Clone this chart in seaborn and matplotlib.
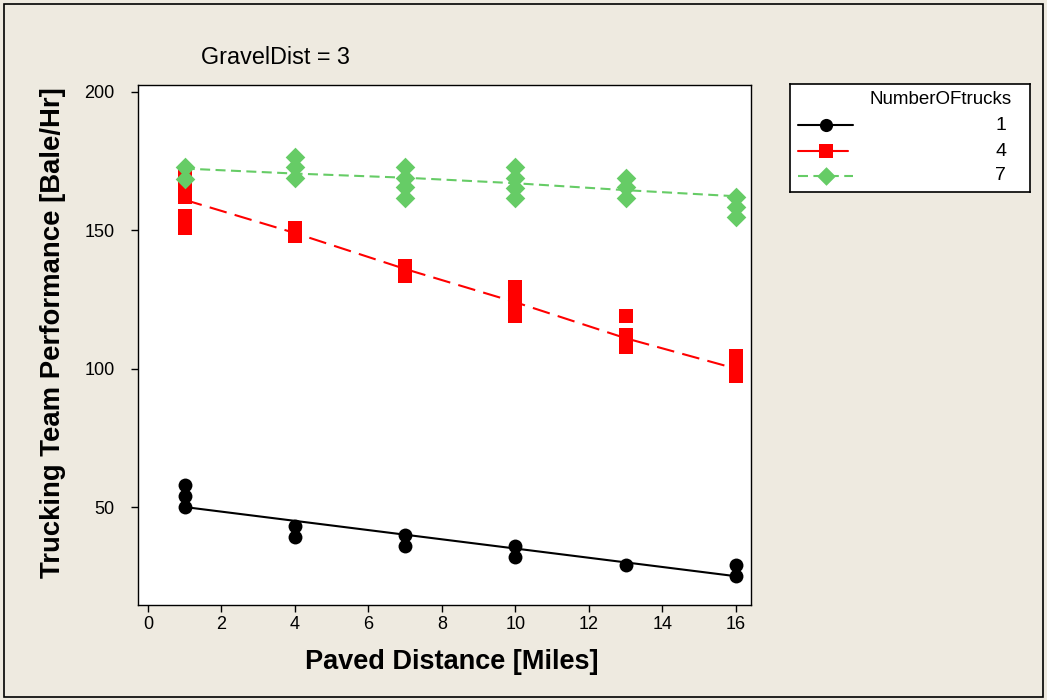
import numpy as np
import pandas as pd
import matplotlib
matplotlib.use("Agg")
import matplotlib.pyplot as plt
import seaborn as sns
from matplotlib.patches import Rectangle
from matplotlib.lines import Line2D

# ---------------- data ----------------
trucks_levels = ["1", "4", "7"]

# observed points (PavedDist, performance)
x_t1 = [1, 1, 1, 4, 4, 7, 7, 10, 10, 13, 16, 16]
y_t1 = [58, 54, 50, 43, 39, 40, 36, 36, 32, 29, 29, 25]

x_t4 = [1, 1, 1, 1, 1, 4, 4, 7, 7, 10, 10, 10, 10, 13, 13, 13, 16, 16, 16]
y_t4 = [170, 166, 162, 155, 151, 151, 148, 137, 133.5, 129.5, 125.5, 122, 119, 119, 112, 108, 104.5, 101, 97.5]

x_t7 = [1, 1, 4, 4, 4, 7, 7, 7, 7, 10, 10, 10, 10, 13, 13, 13, 16, 16, 16]
y_t7 = [173, 168.6, 176.4, 172.8, 168.8, 172.7, 169, 165.5, 161.6, 172.7, 169, 165.3, 161.6, 169, 165.5, 161.6, 162, 158.3, 154.7]

# fitted lines
fit_x = [1, 4, 7, 10, 13, 16]
fit_t1 = [50, 45, 40, 35, 30, 25]
fit_t4 = [161, 149, 136, 124, 111, 100]
fit_t7 = [172.3, 170.5, 169, 167, 164.5, 162.3]

xticks = [0, 2, 4, 6, 8, 10, 12, 14, 16]
yticks = [50, 100, 150, 200]

pts = pd.DataFrame({
    "PavedDist": x_t1 + x_t4 + x_t7,
    "Perf": y_t1 + y_t4 + y_t7,
    "Trucks": ["1"] * len(x_t1) + ["4"] * len(x_t4) + ["7"] * len(x_t7),
})
fits = pd.DataFrame({
    "PavedDist": fit_x * 3,
    "Perf": fit_t1 + fit_t4 + fit_t7,
    "Trucks": ["1"] * 6 + ["4"] * 6 + ["7"] * 6,
})

# ---------------- style ----------------
sns.set_theme(style="white")
plt.rcParams["font.family"] = ["Liberation Sans", "DejaVu Sans"]
plt.rcParams["text.color"] = "black"
plt.rcParams["axes.labelcolor"] = "black"
plt.rcParams["xtick.color"] = "black"
plt.rcParams["ytick.color"] = "black"

bg = "#EEEAE0"
colors = {"1": "#000000", "4": "#FF0000", "7": "#66CC66"}
markers = {"1": "o", "4": "s", "7": "D"}
sizes = {"1": 100, "4": 100, "7": 100}
dashes = {"1": (None, None), "4": (8.5, 4), "7": (4.8, 2.6)}

fig = plt.figure(figsize=(10.47, 7.0), dpi=100)
fig.patch.set_facecolor(bg)
fig.patches.append(Rectangle((4 / 1047, 3 / 700), 1039 / 1047, 693 / 700,
                             transform=fig.transFigure, fill=False,
                             edgecolor="black", linewidth=1.2))

L, R, T, B = 138, 751, 85, 605
ax = fig.add_axes([L / 1047, 1 - B / 700, (R - L) / 1047, (B - T) / 700])
ax.set_facecolor("white")

for lev in trucks_levels:
    sub = fits[fits.Trucks == lev]
    ls = "-" if lev == "1" else "--"
    sns.lineplot(data=sub, x="PavedDist", y="Perf", ax=ax,
                 color=colors[lev], lw=1.5, linestyle=ls, legend=False)
for lev in trucks_levels:
    if lev != "1":
        ln = ax.lines[trucks_levels.index(lev)]
        ln.set_dashes(dashes[lev])

for lev in trucks_levels:
    sub = pts[pts.Trucks == lev]
    sns.scatterplot(data=sub, x="PavedDist", y="Perf", ax=ax,
                    color=colors[lev], marker=markers[lev], s=sizes[lev],
                    linewidth=0, legend=False, zorder=3)

ax.set_xlim(-0.272, 16.41)
ax.set_ylim(14.6, 202.5)
ax.set_xticks(xticks)
ax.set_yticks(yticks)
ax.tick_params(axis="both", direction="out", length=5, width=1,
               labelsize=13, colors="black", left=True, bottom=True)
ax.tick_params(axis="y", pad=12)
ax.tick_params(axis="x", pad=3)
for sp in ax.spines.values():
    sp.set_visible(True)
    sp.set_color("black")
    sp.set_linewidth(1)

ax.set_xlabel("Paved Distance [Miles]", fontsize=19.5, fontweight="bold")
ax.set_ylabel("Trucking Team Performance [Bale/Hr]", fontsize=19.8,
              fontweight="bold")
ax.xaxis.set_label_coords((452 - L) / (R - L), (B - 649) / (B - T))
ax.yaxis.set_label_coords((66 - L) / (R - L), (B - 333) / (B - T))

fig.text(275 / 1047, 1 - 57 / 700, "GravelDist = 3", ha="center", va="center",
         fontsize=16.8)

# ---------------- legend box ----------------
lx0, ly0, lx1, ly1 = 790, 84, 1030, 192
lax = fig.add_axes([lx0 / 1047, 1 - ly1 / 700, (lx1 - lx0) / 1047, (ly1 - ly0) / 700])
lax.set_xlim(0, lx1 - lx0)
lax.set_ylim(ly1 - ly0, 0)
lax.set_xticks([])
lax.set_yticks([])
lax.set_facecolor("white")
for sp in lax.spines.values():
    sp.set_color("black")
    sp.set_linewidth(1.2)
lax.text(1012 - lx0, 100 - ly0, "NumberOFtrucks", ha="right", va="center", fontsize=13.5)
rows = [125, 151, 176]
for lev, ry in zip(trucks_levels, rows):
    yy = ry - ly0
    ln = Line2D([798 - lx0, 853 - lx0], [yy, yy], color=colors[lev], lw=1.5,
                linestyle="-" if lev == "1" else "--")
    if lev == "4":
        ln.set_linestyle("-")
        ln.set_xdata([798 - lx0, 848 - lx0])
    elif lev == "7":
        ln.set_dashes(dashes[lev])
    lax.add_line(ln)
    lax.scatter([826 - lx0], [yy], s=sizes[lev] * 0.9, marker=markers[lev],
                color=colors[lev], linewidths=0, zorder=3)
    lax.text(1006 - lx0, yy, lev, ha="right", va="center", fontsize=14)

fig.savefig("out.png", dpi=100, facecolor=bg)
